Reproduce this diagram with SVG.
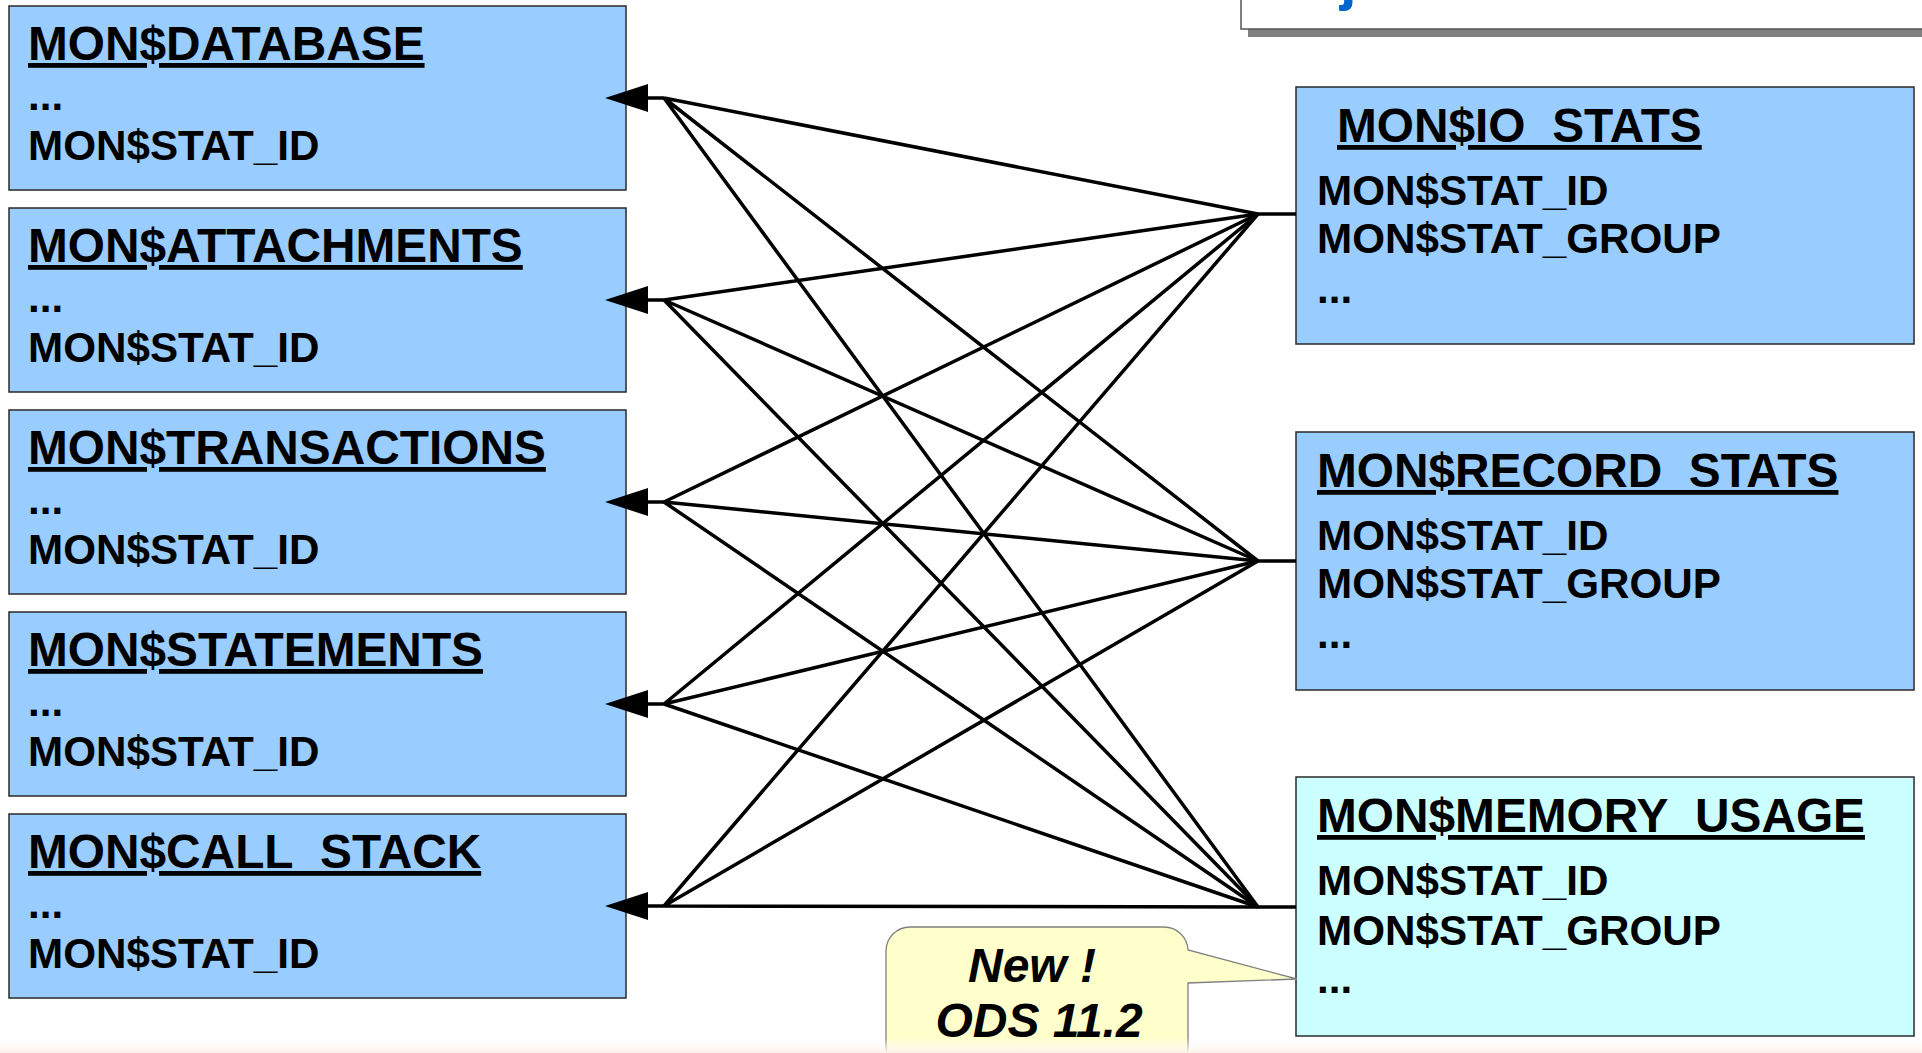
<svg xmlns="http://www.w3.org/2000/svg" width="1922" height="1053" viewBox="0 0 1922 1053">
<defs>
<style>
.box{fill:#99ccff;stroke:#2a2a2a;stroke-width:1.5}
.mem{fill:#ccffff;stroke:#2a2a2a;stroke-width:1.5}
.title{font-family:"Liberation Sans",Arial,sans-serif;font-weight:bold;font-size:47.8px;fill:#000;text-decoration:underline}
.body{font-family:"Liberation Sans",Arial,sans-serif;font-weight:bold;font-size:42.2px;fill:#000}
.ln{stroke:#000;stroke-width:3.5;fill:none}
.note{font-family:"Liberation Sans",Arial,sans-serif;font-weight:bold;font-style:italic;font-size:48px;fill:#000;text-anchor:middle}
</style>
<linearGradient id="band" x1="0" y1="0" x2="0" y2="1">
<stop offset="0" stop-color="#ffffff" stop-opacity="0"/>
<stop offset="1" stop-color="#fdf1e8"/>
</linearGradient>
</defs>
<rect width="1922" height="1053" fill="#ffffff"/>

<g id="header-frame">
<rect x="1248" y="-2" width="700" height="39" fill="#808080"/>
<rect x="1241" y="-10" width="700" height="39" fill="#ffffff" stroke="#555" stroke-width="1.5"/>
<text x="1340" y="-1" font-family="Liberation Sans,Arial,sans-serif" font-weight="bold" font-size="60" fill="#0066cc">j</text>
</g>

<g id="mon-database">
<rect class="box" x="9" y="6" width="617" height="184"/>
<text class="title" x="28" y="60">MON$DATABASE</text>
<text class="body" x="28" y="110">...</text>
<text class="body" x="28" y="160">MON$STAT_ID</text>
</g>
<g id="mon-attachments">
<rect class="box" x="9" y="208" width="617" height="184"/>
<text class="title" x="28" y="262">MON$ATTACHMENTS</text>
<text class="body" x="28" y="312">...</text>
<text class="body" x="28" y="362">MON$STAT_ID</text>
</g>
<g id="mon-transactions">
<rect class="box" x="9" y="410" width="617" height="184"/>
<text class="title" x="28" y="464">MON$TRANSACTIONS</text>
<text class="body" x="28" y="514">...</text>
<text class="body" x="28" y="564">MON$STAT_ID</text>
</g>
<g id="mon-statements">
<rect class="box" x="9" y="612" width="617" height="184"/>
<text class="title" x="28" y="666">MON$STATEMENTS</text>
<text class="body" x="28" y="716">...</text>
<text class="body" x="28" y="766">MON$STAT_ID</text>
</g>
<g id="mon-call-stack">
<rect class="box" x="9" y="814" width="617" height="184"/>
<text class="title" x="28" y="868">MON$CALL_STACK</text>
<text class="body" x="28" y="918">...</text>
<text class="body" x="28" y="968">MON$STAT_ID</text>
</g>

<g id="mon-io-stats">
<rect class="box" x="1296" y="87" width="618" height="257"/>
<text class="title" x="1337" y="142">MON$IO_STATS</text>
<text class="body" x="1317" y="205">MON$STAT_ID</text>
<text class="body" x="1317" y="253">MON$STAT_GROUP</text>
<text class="body" x="1317" y="303">...</text>
</g>
<g id="mon-record-stats">
<rect class="box" x="1296" y="432" width="618" height="258"/>
<text class="title" x="1317" y="487">MON$RECORD_STATS</text>
<text class="body" x="1317" y="550">MON$STAT_ID</text>
<text class="body" x="1317" y="598">MON$STAT_GROUP</text>
<text class="body" x="1317" y="648">...</text>
</g>
<g id="mon-memory-usage">
<rect class="mem" x="1296" y="777" width="618" height="259"/>
<text class="title" x="1317" y="832">MON$MEMORY_USAGE</text>
<text class="body" x="1317" y="895">MON$STAT_ID</text>
<text class="body" x="1317" y="945">MON$STAT_GROUP</text>
<text class="body" x="1317" y="993">...</text>
</g>

<g id="connectors">
<g class="ln">
<path d="M640 98H664M640 300H664M640 502H664M640 704H664M640 906H664"/>
<path d="M1258 214H1296M1258 561H1296M1258 907H1296"/>
<path d="M664 98L1258 214M664 98L1258 561M664 98L1258 907"/>
<path d="M664 300L1258 214M664 300L1258 561M664 300L1258 907"/>
<path d="M664 502L1258 214M664 502L1258 561M664 502L1258 907"/>
<path d="M664 704L1258 214M664 704L1258 561M664 704L1258 907"/>
<path d="M664 906L1258 214M664 906L1258 561M664 906L1258 907"/>
</g>
<g fill="#000">
<path d="M605 98L648 84V112Z"/>
<path d="M605 300L648 286V314Z"/>
<path d="M605 502L648 488V516Z"/>
<path d="M605 704L648 690V718Z"/>
<path d="M605 906L648 892V920Z"/>
</g>
</g>

<g id="callout-new">
<path d="M910 927H1164A24 24 0 0 1 1188 950L1297 979L1188 983V1046A24 24 0 0 1 1164 1070H910A24 24 0 0 1 886 1046V951A24 24 0 0 1 910 927Z" fill="#ffffcc" stroke="#808080" stroke-width="1.3"/>
<text class="note" x="1032" y="982">New !</text>
<text class="note" x="1039" y="1037">ODS 11.2</text>
</g>

<rect x="0" y="1038" width="1922" height="15" fill="url(#band)"/>
</svg>
